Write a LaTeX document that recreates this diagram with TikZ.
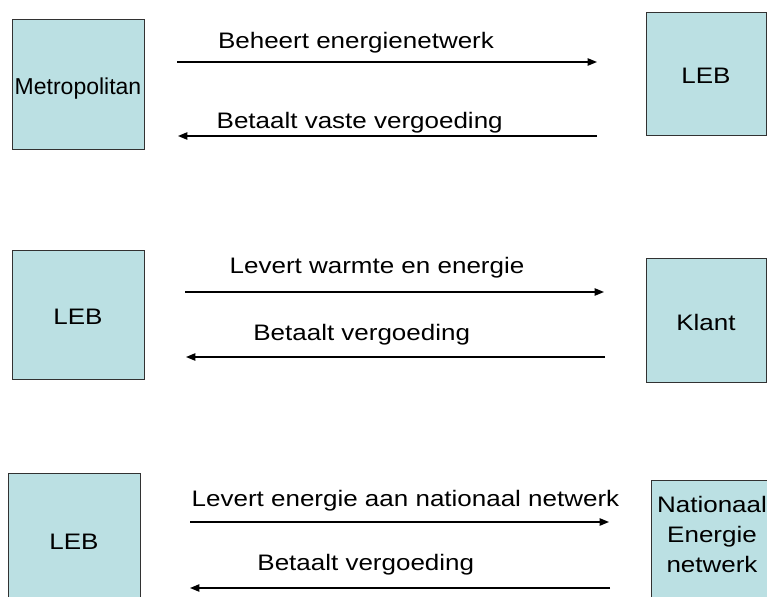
\documentclass[tikz,border=0pt]{standalone}
\usepackage{fontspec}
\setmainfont{Liberation Sans}
\newfontfamily\widefont[FakeStretch=1.16]{Liberation Sans}
\usetikzlibrary{arrows.meta}
\definecolor{boxfill}{RGB}{187,224,227}
\definecolor{boxline}{RGB}{50,50,50}
\begin{document}
\begin{tikzpicture}[x=0.75pt,y=-0.75pt,
  partybox/.style={draw=boxline,line width=0.75pt,fill=boxfill,inner sep=0pt,
    text height=15pt,text depth=0pt,align=center,
    font=\widefont\fontsize{16.8pt}{22.5pt}\selectfont},
  boxtext/.style={anchor=base,inner sep=0pt,align=center,
    font=\widefont\fontsize{16.8pt}{22.5pt}\selectfont},
  lbl/.style={anchor=base,inner sep=0pt,font=\widefont\fontsize{16.8pt}{20pt}\selectfont},
  flow/.style={line width=1pt,-{Triangle[length=7pt,width=5.5pt]}}]
\clip (0,0) rectangle (767,596);

% parties
\node[partybox,minimum width=99pt,minimum height=97.5pt,
      font=\fontsize{17.25pt}{22.5pt}\selectfont] (metro) at (78,84) {Metropolitan};
\node[partybox,minimum width=90pt,minimum height=92.25pt] (lebA) at (706,73.5) {LEB};
\node[partybox,minimum width=99pt,minimum height=96.75pt] (lebB) at (78,314.5) {LEB};
\node[partybox,minimum width=90pt,minimum height=93pt] (klant) at (706,320) {Klant};
\node[partybox,minimum width=99pt,minimum height=99pt] (lebC) at (74,539) {LEB};
\node[draw=boxline,line width=0.75pt,fill=boxfill,minimum width=91.5pt,minimum height=97.5pt] (natbox) at (712,545) {};
\node[boxtext] (nattext) at (712,572) {Nationaal\\Energie\\netwerk};

% arrow end points
\coordinate (r1s) at (177,62);  \coordinate (r1e) at (597,62);
\coordinate (l1s) at (597,136); \coordinate (l1e) at (178,136);
\coordinate (r2s) at (185,292); \coordinate (r2e) at (604,292);
\coordinate (l2s) at (605,357); \coordinate (l2e) at (186,357);
\coordinate (r3s) at (190,522); \coordinate (r3e) at (609,522);
\coordinate (l3s) at (610,588); \coordinate (l3e) at (190,588);

\draw[flow] (r1s) -- (r1e);
\draw[flow] (l1s) -- (l1e);
\draw[flow] (r2s) -- (r2e);
\draw[flow] (l2s) -- (l2e);
\draw[flow] (r3s) -- (r3e);
\draw[flow] (l3s) -- (l3e);

% flow labels
\node[lbl] (t1) at (356,48.3) {Beheert energienetwerk};
\node[lbl] (t2) at (359.7,128.3) {Betaalt vaste vergoeding};
\node[lbl] (t3) at (377,273.3) {Levert warmte en energie};
\node[lbl] (t4) at (361.7,340) {Betaalt vergoeding};
\node[lbl] (t5) at (405.5,506) {Levert energie aan nationaal netwerk};
\node[lbl] (t6) at (365.8,570) {Betaalt vergoeding};
\end{tikzpicture}
\end{document}
